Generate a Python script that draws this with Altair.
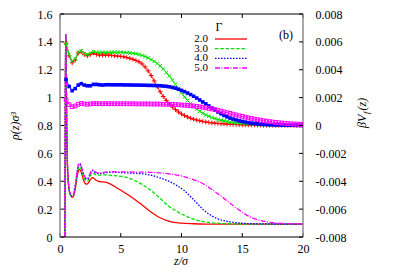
import altair as alt
import pandas as pd

W, H = 243, 223
FONT = "Liberation Serif"

gamma_labels = ["2.0", "3.0", "4.0", "5.0"]
line_colors = ["#ff0000", "#00e000", "#0000ff", "#ff00ff"]
line_dashes = [None, [3.5, 1.8], [1.5, 1.5], [5, 1.5, 1, 1.5]]

# ---------- density profiles rho(z) sigma^3 (left axis) ----------
z_rho_head = [0.4, 0.45, 0.48, 0.52, 0.56, 0.62, 0.7, 0.8, 0.9, 1.0, 1.1, 1.2, 1.3, 1.4, 1.5,
              1.6, 1.7, 1.8, 1.9, 2.0, 2.1, 2.2, 2.3, 2.4, 2.5, 2.6, 2.7, 2.8, 2.9, 3.0]

rho_g2_head = [0, 1.2, 1.44, 1.1, 0.75, 0.5, 0.38, 0.32, 0.295, 0.285, 0.29, 0.32, 0.37, 0.43, 0.47,
               0.485, 0.475, 0.45, 0.42, 0.395, 0.383, 0.38, 0.385, 0.398, 0.412, 0.422, 0.425, 0.42, 0.413, 0.405]
z_g2_tail = [3.3, 3.7, 4.2, 4.7, 5.2, 5.9, 6.6, 7.4, 8.2, 9.0, 10.0, 11.0, 12.0, 14.0, 20.0]
rho_g2_tail = [0.397, 0.393, 0.378, 0.352, 0.325, 0.285, 0.24, 0.185, 0.14, 0.112, 0.099, 0.095, 0.093, 0.092, 0.092]

rho_g3_head = [0, 1.2, 1.45, 1.1, 0.75, 0.5, 0.38, 0.32, 0.297, 0.29, 0.297, 0.33, 0.385, 0.45, 0.49,
               0.505, 0.495, 0.47, 0.44, 0.418, 0.405, 0.4, 0.405, 0.42, 0.44, 0.455, 0.46, 0.455, 0.448, 0.445]
z_g3_tail = [3.3, 3.7, 4.2, 4.7, 5.2, 5.9, 6.6, 7.4, 8.2, 9.0, 9.6, 10.2, 11.2, 12.3, 13.5, 15.0, 20.0]
rho_g3_tail = [0.444, 0.446, 0.442, 0.438, 0.433, 0.415, 0.385, 0.34, 0.28, 0.218, 0.185, 0.157, 0.122,
               0.104, 0.096, 0.093, 0.092]

rho_g4_head = [0, 1.2, 1.45, 1.1, 0.75, 0.5, 0.38, 0.32, 0.298, 0.292, 0.3, 0.335, 0.395, 0.465, 0.51,
               0.525, 0.515, 0.49, 0.46, 0.435, 0.42, 0.414, 0.418, 0.435, 0.455, 0.47, 0.476, 0.47, 0.462, 0.457]
z_g4_tail = [3.3, 3.7, 4.3, 5.0, 6.0, 7.4, 8.2, 9.0, 9.6, 10.2, 10.8, 11.3, 11.8, 12.4, 13.0, 13.5, 14.5, 16.0, 20.0]
rho_g4_tail = [0.455, 0.46, 0.465, 0.462, 0.458, 0.445, 0.425, 0.398, 0.37, 0.335, 0.285, 0.24, 0.195, 0.157,
               0.13, 0.117, 0.103, 0.095, 0.092]

rho_g5_head = [0, 1.25, 1.46, 1.1, 0.75, 0.5, 0.38, 0.32, 0.298, 0.292, 0.3, 0.337, 0.4, 0.47, 0.515,
               0.53, 0.52, 0.495, 0.465, 0.44, 0.425, 0.42, 0.424, 0.44, 0.46, 0.475, 0.482, 0.476, 0.468, 0.462]
z_g5_tail = [3.3, 3.7, 4.3, 5.0, 6.0, 7.4, 8.2, 9.05, 9.9, 10.7, 11.5, 12.35, 13.2, 14.0, 14.8, 15.6, 16.4,
             17.3, 18.2, 19.0, 20.0]
rho_g5_tail = [0.46, 0.465, 0.468, 0.467, 0.466, 0.464, 0.46, 0.452, 0.44, 0.42, 0.395, 0.35, 0.297, 0.242,
               0.19, 0.146, 0.12, 0.105, 0.098, 0.095, 0.093]

# ---------- external potential beta V_f(z) (right axis), in units of 1e-3 ----------
z_v = [0.5, 0.75, 1.0, 1.25, 1.5, 1.75, 2.0, 2.25, 2.5, 2.75, 3.0, 3.25, 3.5, 3.75, 4.0, 4.25, 4.5, 4.75,
       5.0, 5.25, 5.5, 5.75, 6.0, 6.25, 6.5, 6.75, 7.0, 7.25, 7.5, 7.75, 8.0, 8.25, 8.5, 8.75, 9.0, 9.25,
       9.5, 9.75, 10.0, 10.25, 10.5, 10.75, 11.0, 11.25, 11.5, 11.75, 12.0, 12.25, 12.5, 12.75, 13.0, 13.25,
       13.5, 13.75, 14.0, 14.25, 14.5, 14.75, 15.0, 15.25, 15.5, 15.75, 16.0, 16.25, 16.5, 16.75, 17.0,
       17.25, 17.5, 17.75, 18.0, 18.25, 18.5, 18.75, 19.0, 19.25, 19.5, 19.75, 20.0]

v_g2 = [5.9, 5.0, 4.5, 4.7, 5.2, 5.3, 5.1, 5.0, 5.1, 5.2, 5.1, 5.05, 5.05, 5.05, 5.05, 5.03, 5.0, 4.98,
        4.96, 4.93, 4.88, 4.82, 4.75, 4.67, 4.57, 4.42, 4.2, 3.92, 3.58, 3.2, 2.8, 2.42, 2.08, 1.8, 1.55, 1.33,
        1.14, 0.97, 0.83, 0.71, 0.61, 0.52, 0.45, 0.39, 0.34, 0.29, 0.25, 0.22, 0.19, 0.17, 0.15, 0.13,
        0.12, 0.1, 0.09, 0.08, 0.07, 0.06, 0.05, 0.05, 0.04, 0.04, 0.03, 0.03, 0.03, 0.02, 0.02,
        0.02, 0.02, 0.01, 0.01, 0.01, 0.01, 0.01, 0.01, 0.0, 0.0, 0.0, 0.0]
v_g3 = [5.9, 5.1, 4.6, 4.8, 5.25, 5.35, 5.15, 5.1, 5.2, 5.3, 5.25, 5.22, 5.24, 5.25, 5.24, 5.25, 5.26, 5.25,
        5.25, 5.24, 5.23, 5.2, 5.18, 5.15, 5.1, 5.03, 4.95, 4.85, 4.73, 4.6, 4.45, 4.28, 4.05, 3.8, 3.55, 3.25,
        2.95, 2.65, 2.35, 2.05, 1.8, 1.57, 1.35, 1.18, 1.02, 0.88, 0.76, 0.66, 0.57, 0.5, 0.43, 0.38,
        0.33, 0.29, 0.25, 0.22, 0.2, 0.17, 0.15, 0.14, 0.12, 0.11, 0.09, 0.08, 0.07, 0.07, 0.06,
        0.05, 0.05, 0.04, 0.04, 0.03, 0.03, 0.03, 0.03, 0.02, 0.02, 0.02, 0.02]
v_g4 = [3.3, 2.8, 2.5, 2.65, 2.9, 3.0, 2.9, 2.85, 2.85, 2.95, 2.95, 2.92, 2.9, 2.92, 2.93, 2.92, 2.92, 2.92,
        2.92, 2.91, 2.91, 2.91, 2.9, 2.9, 2.9, 2.89, 2.89, 2.88, 2.88, 2.87, 2.86, 2.85, 2.83, 2.81, 2.78, 2.73,
        2.68, 2.6, 2.52, 2.43, 2.33, 2.22, 2.1, 1.97, 1.83, 1.69, 1.55, 1.4, 1.25, 1.11, 0.97, 0.84,
        0.72, 0.62, 0.53, 0.46, 0.4, 0.34, 0.29, 0.25, 0.2, 0.17, 0.14, 0.12, 0.1, 0.08, 0.07,
        0.06, 0.05, 0.04, 0.04, 0.03, 0.03, 0.02, 0.02, 0.02, 0.01, 0.01, 0.01]
v_g5 = [1.85, 1.5, 1.35, 1.4, 1.52, 1.58, 1.55, 1.52, 1.55, 1.57, 1.57, 1.56, 1.56, 1.57, 1.56, 1.56, 1.56, 1.56,
        1.56, 1.56, 1.56, 1.56, 1.56, 1.55, 1.55, 1.55, 1.55, 1.55, 1.54, 1.54, 1.54, 1.53, 1.53, 1.52, 1.52, 1.51,
        1.5, 1.49, 1.47, 1.46, 1.44, 1.42, 1.4, 1.37, 1.34, 1.31, 1.27, 1.23, 1.19, 1.14, 1.09, 1.03,
        0.98, 0.92, 0.87, 0.81, 0.76, 0.7, 0.65, 0.6, 0.55, 0.51, 0.46, 0.42, 0.38, 0.34, 0.31,
        0.28, 0.25, 0.22, 0.2, 0.18, 0.16, 0.14, 0.12, 0.11, 0.1, 0.09, 0.08]

x_tick_values = [0, 5, 10, 15, 20]
left_tick_values = [0, 0.2, 0.4, 0.6, 0.8, 1.0, 1.2, 1.4, 1.6]
right_tick_values = [-0.008, -0.006, -0.004, -0.002, 0, 0.002, 0.004, 0.006, 0.008]

# ---------- tables ----------
rho_series = [
    (z_rho_head + z_g2_tail, rho_g2_head + rho_g2_tail),
    (z_rho_head + z_g3_tail, rho_g3_head + rho_g3_tail),
    (z_rho_head + z_g4_tail, rho_g4_head + rho_g4_tail),
    (z_rho_head + z_g5_tail, rho_g5_head + rho_g5_tail),
]
v_series = [v_g2, v_g3, v_g4, v_g5]

marker_specs = [
    dict(shape="M-1,0L1,0M0,-1L0,1", filled=False, size=22),
    dict(shape="M-1,-1L1,1M-1,1L1,-1", filled=False, size=13),
    dict(shape="square", filled=True, size=13),
    dict(shape="square", filled=False, size=14),
]

x_axis = alt.Axis(values=x_tick_values, title=None, ticks=False, domain=False, grid=False,
                  labelFont=FONT, labelFontSize=12, labelColor="black", labelPadding=6,
                  labelFlush=False, labelOverlap=False)
left_axis = alt.Axis(orient="left", values=left_tick_values, title=None, ticks=False, domain=False,
                     grid=False, labelFont=FONT, labelFontSize=12, labelColor="black", labelPadding=8,
                     labelFlush=False, labelOverlap=False, labelExpr="format(datum.value, '~g')")
right_axis = alt.Axis(orient="right", values=right_tick_values, title=None, ticks=False, domain=False,
                      grid=False, labelFont=FONT, labelFontSize=12, labelColor="black", labelPadding=12,
                      labelFlush=False, labelOverlap=False,
                      labelExpr="replace(format(datum.value, '~g'), '\u2212', '-')")

x_enc = alt.X("z:Q", scale=alt.Scale(domain=[0, 20], nice=False, zero=False), axis=x_axis)
y_left = alt.Y("val:Q", scale=alt.Scale(domain=[0, 1.6], nice=False, zero=False), axis=left_axis)
y_right = alt.Y("val:Q", scale=alt.Scale(domain=[-0.008, 0.008], nice=False, zero=False), axis=right_axis)

one = pd.DataFrame({"a": [0]})

left_layers = []
for (zs, rs), col, dash in zip(rho_series, line_colors, line_dashes):
    df = pd.DataFrame({"z": zs, "val": rs})
    kw = dict(color=col, strokeWidth=1.3, interpolate="monotone", clip=True)
    if dash:
        kw["strokeDash"] = dash
    left_layers.append(alt.Chart(df).mark_line(**kw).encode(x=x_enc, y=y_left))

# inward ticks (left, top, bottom)
left_layers.append(
    alt.Chart(pd.DataFrame({"val": left_tick_values})).mark_rule(color="black", strokeWidth=1)
    .encode(y=y_left, x=alt.value(0), x2=alt.value(4)))
xt = pd.DataFrame({"z": x_tick_values})
left_layers.append(alt.Chart(xt).mark_rule(color="black", strokeWidth=1)
                   .encode(x=x_enc, y=alt.value(0), y2=alt.value(4)))
left_layers.append(alt.Chart(xt).mark_rule(color="black", strokeWidth=1)
                   .encode(x=x_enc, y=alt.value(H - 4), y2=alt.value(H)))

# border
left_layers.append(alt.Chart(one).mark_rule(color="black", strokeWidth=1)
                   .encode(x=alt.value(0), x2=alt.value(W), y=alt.value(0)))
left_layers.append(alt.Chart(one).mark_rule(color="black", strokeWidth=1)
                   .encode(x=alt.value(0), x2=alt.value(W), y=alt.value(H)))
left_layers.append(alt.Chart(one).mark_rule(color="#8c8c8c", strokeWidth=1.5)
                   .encode(x=alt.value(0), y=alt.value(0), y2=alt.value(H)))
left_layers.append(alt.Chart(one).mark_rule(color="#8c8c8c", strokeWidth=1.5)
                   .encode(x=alt.value(W), y=alt.value(0), y2=alt.value(H)))

# legend
legend_y = [25, 34.7, 44.3, 54]
left_layers.append(alt.Chart(one).mark_text(font=FONT, fontSize=12, color="black", align="center",
                                            baseline="middle")
                   .encode(x=alt.value(159), y=alt.value(13), text=alt.value("\u0393")))
for lab, col, dash, ly in zip(gamma_labels, line_colors, line_dashes, legend_y):
    left_layers.append(alt.Chart(one).mark_text(font=FONT, fontSize=11, color="black", align="right",
                                                baseline="middle")
                       .encode(x=alt.value(148), y=alt.value(ly), text=alt.value(lab)))
    kw = dict(color=col, strokeWidth=1.3)
    if dash:
        kw["strokeDash"] = dash
    left_layers.append(alt.Chart(one).mark_rule(**kw)
                       .encode(x=alt.value(155), x2=alt.value(187), y=alt.value(ly)))

# panel tag and axis titles
left_layers.append(alt.Chart(one).mark_text(font=FONT, fontSize=12, color="black", align="center",
                                            baseline="middle")
                   .encode(x=alt.value(226), y=alt.value(21), text=alt.value("(b)")))
left_layers.append(alt.Chart(one).mark_text(font=FONT, fontSize=12, fontStyle="italic", color="black",
                                            align="center", baseline="middle")
                   .encode(x=alt.value(121), y=alt.value(247), text=alt.value("z/\u03c3")))
left_layers.append(alt.Chart(one).mark_text(font=FONT, fontSize=12, fontStyle="italic", color="black",
                                            align="center", baseline="middle", angle=270)
                   .encode(x=alt.value(-45), y=alt.value(112), text=alt.value("\u03c1(z)\u03c3\u00b3")))
for txt, px, py, fs in [("\u03b2V", 306, 114, 12), ("f", 308.5, 100, 9), ("(z)", 306, 96.5, 12)]:
    left_layers.append(alt.Chart(one).mark_text(font=FONT, fontSize=fs, fontStyle="italic", color="black",
                                                align="left", baseline="alphabetic", angle=270)
                       .encode(x=alt.value(px), y=alt.value(py), text=alt.value(txt)))

right_layers = []
for vs, col, mk in zip(v_series, line_colors, marker_specs):
    df = pd.DataFrame({"z": z_v, "val": [v * 1e-3 for v in vs]})
    right_layers.append(alt.Chart(df).mark_line(color=col, strokeWidth=1, clip=True)
                        .encode(x=x_enc, y=y_right))
    right_layers.append(alt.Chart(df).mark_point(color=col, strokeWidth=1, opacity=1, clip=True, **mk)
                        .encode(x=x_enc, y=y_right))
right_layers.append(
    alt.Chart(pd.DataFrame({"val": right_tick_values})).mark_rule(color="black", strokeWidth=1)
    .encode(y=y_right, x=alt.value(W - 4), x2=alt.value(W)))

chart = (
    alt.layer(alt.layer(*left_layers), alt.layer(*right_layers))
    .resolve_scale(y="independent")
    .properties(width=W, height=H,
                padding={"left": 52, "top": 6, "right": 84, "bottom": 31},
                autosize=alt.AutoSizeParams(type="none"),
                background="white")
    .configure_view(stroke=None)
)

chart.save("out.html", embed_options={"renderer": "svg", "actions": False})
